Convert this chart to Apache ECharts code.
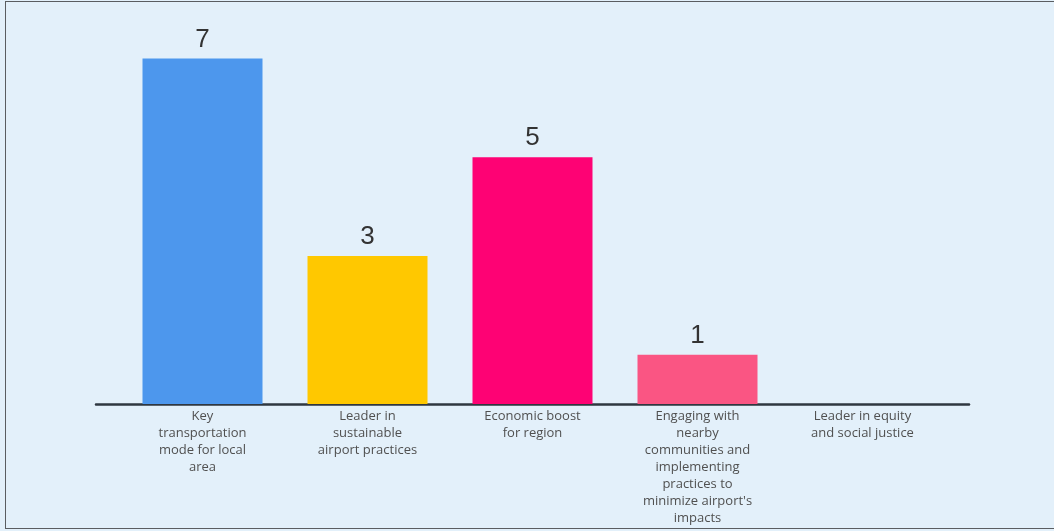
<!DOCTYPE html>
<html>
<head>
<meta charset="utf-8">
<script src="https://cdn.jsdelivr.net/npm/echarts@6/dist/echarts.min.js"></script>
<style>
  html, body { margin: 0; padding: 0; width: 1054px; height: 531px; overflow: hidden; background: #e3f0fa; }
  #frame { position: absolute; left: 5px; top: 1px; width: 1100px; bottom: 2px; border: 1px solid #5a5d61; }
  #chart { position: absolute; left: 0; top: 0; width: 1054px; height: 531px; }
</style>
</head>
<body>
<div id="frame"></div>
<div id="chart"></div>
<script>
// Survey responses per airport priority
const categories = [
  'Key\ntransportation\nmode for local\narea',
  'Leader in\nsustainable\nairport practices',
  'Economic boost\nfor region',
  'Engaging with\nnearby\ncommunities and\nimplementing\npractices to\nminimize airport\'s\nimpacts',
  'Leader in equity\nand social justice'
];
const counts = [7, 3, 5, 1, 0];
const barColors = ['#4d97ed', '#ffc800', '#fe0274', '#fa5583', '#c0c0c0'];

const chart = echarts.init(document.getElementById('chart'), null, { renderer: 'canvas' });

chart.setOption({
  backgroundColor: 'transparent',
  animation: false,
  grid: [
    { left: 120, width: 825, top: 9, height: 395 },
    { left: 96, width: 873, top: 9, height: 395 }
  ],
  xAxis: [
    {
      type: 'category',
      gridIndex: 0,
      data: categories,
      axisLine: { show: false },
      axisTick: { show: false },
      axisLabel: {
        interval: 0,
        margin: 4,
        color: '#505050',
        fontFamily: 'Open Sans',
        fontSize: 13,
        lineHeight: 17,
        align: 'center'
      }
    },
    {
      type: 'category',
      gridIndex: 1,
      data: categories,
      axisLine: { show: true, lineStyle: { color: '#2f3740', width: 2.5 } },
      axisTick: { show: false },
      axisLabel: { show: false }
    }
  ],
  yAxis: [
    { type: 'value', gridIndex: 0, min: 0, max: 8, show: false },
    { type: 'value', gridIndex: 1, min: 0, max: 8, show: false }
  ],
  series: [
    {
      type: 'bar',
      xAxisIndex: 0,
      yAxisIndex: 0,
      barWidth: 120,
      data: counts.map((v, i) => ({
        value: v,
        itemStyle: { color: barColors[i] },
        label: { show: v > 0 }
      })),
      label: {
        position: 'top',
        distance: 6,
        color: '#333333',
        fontFamily: 'Liberation Sans',
        fontSize: 26
      }
    }
  ]
});
</script>
</body>
</html>
